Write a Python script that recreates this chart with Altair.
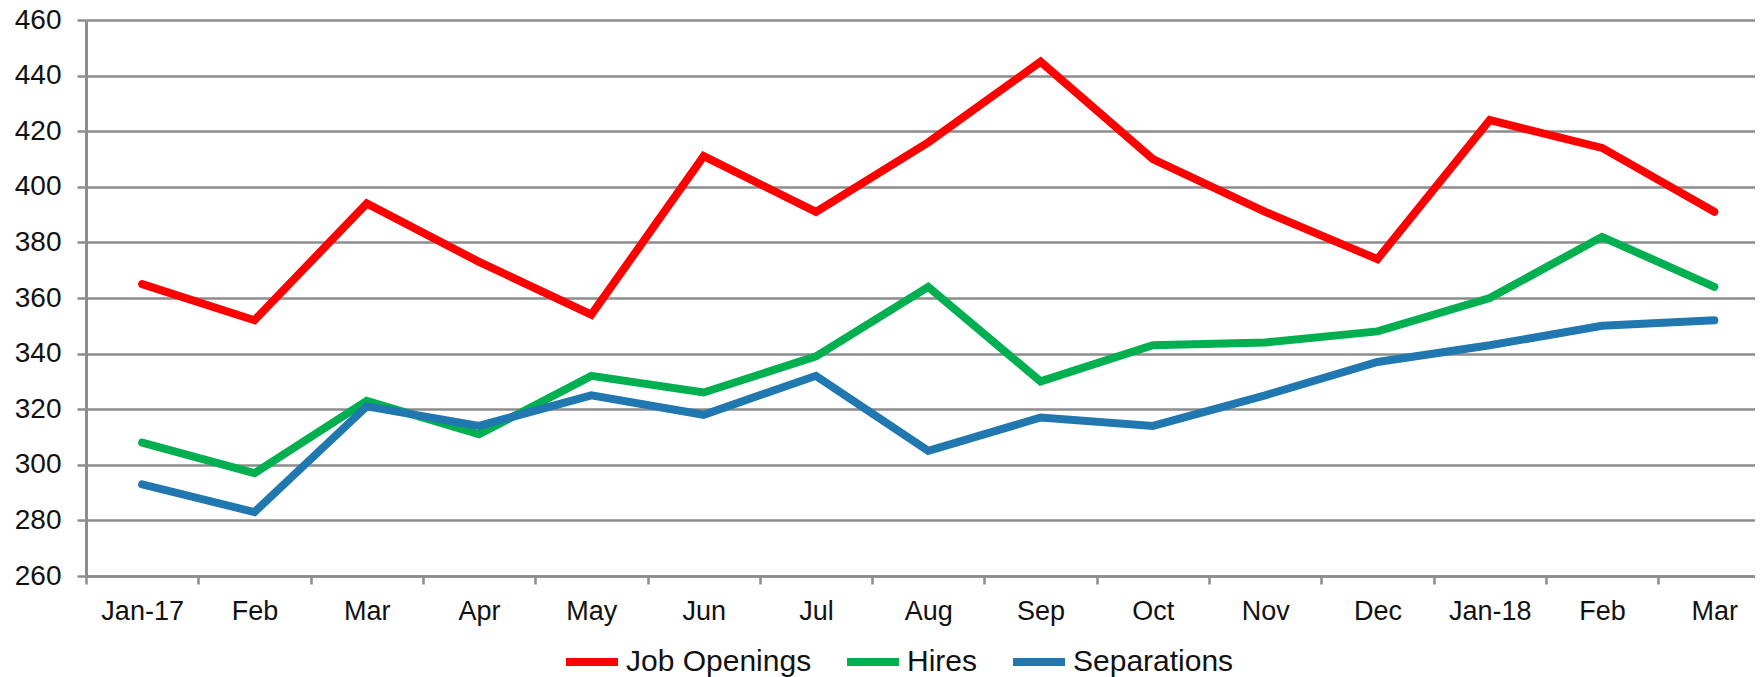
import altair as alt
import pandas as pd

months = ["Jan-17", "Feb", "Mar", "Apr", "May", "Jun", "Jul", "Aug", "Sep",
          "Oct", "Nov", "Dec", "Jan-18", "Feb", "Mar"]
job_openings = [365, 352, 394, 373, 354, 411, 391, 416, 445, 410, 391, 374, 424, 414, 391]
hires = [308, 297, 323, 311, 332, 326, 339, 364, 330, 343, 344, 348, 360, 382, 364]
separations = [293, 283, 321, 314, 325, 318, 332, 305, 317, 314, 325, 337, 343, 350, 352]
series_names = ["Job Openings", "Hires", "Separations"]
series_colors = ["#FF0000", "#00B050", "#2177B0"]
y_ticks = [260, 280, 300, 320, 340, 360, 380, 400, 420, 440, 460]

rows = []
for name, vals in zip(series_names, [job_openings, hires, separations]):
    for i, (m, v) in enumerate(zip(months, vals)):
        rows.append({"idx": i, "month": m, "series": name, "value": v})
df = pd.DataFrame(rows)

STEP = 112.3
W = 1669
H = 556
xmax = W / STEP - 0.5
GRAY = "#8C8C8C"
FONT = "Liberation Sans"

label_expr = "[" + ",".join("'" + m + "'" for m in months) + "][datum.value]"

chart = alt.Chart(df).mark_line(
    strokeWidth=8, strokeCap="round", strokeJoin="miter"
).encode(
    x=alt.X(
        "idx:Q",
        scale=alt.Scale(domain=[-0.5, xmax], nice=False, zero=False),
        axis=alt.Axis(
            values=list(range(len(months))),
            labelExpr=label_expr,
            tickOffset=-STEP / 2,
            labelOffset=STEP / 2,
            grid=False,
            title=None,
            tickSize=8,
            tickWidth=2.5,
            tickColor=GRAY,
            domainColor=GRAY,
            domainWidth=2.5,
            labelPadding=14,
            labelFontSize=27,
            labelFont=FONT,
            labelColor="#111111",
            labelOverlap=False,
            labelFlush=False,
        ),
    ),
    y=alt.Y(
        "value:Q",
        scale=alt.Scale(domain=[260, 460], nice=False, zero=False),
        axis=alt.Axis(
            values=y_ticks,
            title=None,
            grid=True,
            gridColor=GRAY,
            gridWidth=2.5,
            tickSize=9,
            tickWidth=2.5,
            tickColor=GRAY,
            domainColor=GRAY,
            domainWidth=3,
            labelPadding=16,
            labelFontSize=28,
            labelFont=FONT,
            labelColor="#111111",
        ),
    ),
    color=alt.Color(
        "series:N",
        scale=alt.Scale(domain=series_names, range=series_colors),
        sort=series_names,
        legend=alt.Legend(
            orient="none",
            legendX=476,
            legendY=612,
            direction="horizontal",
            columns=3,
            title=None,
            symbolType="stroke",
            symbolSize=2704,
            symbolStrokeWidth=8,
            labelFontSize=30,
            labelFont=FONT,
            labelColor="#111111",
            labelLimit=400,
            labelOffset=4,
            columnPadding=19,
            padding=0,
        ),
    ),
).properties(
    width=W,
    height=H,
    autosize=alt.AutoSizeParams(type="none"),
    padding={"left": 78, "top": 12, "right": 0, "bottom": 101},
).configure_view(stroke=None).configure(background="white")

chart.save("out.html", embed_options={"renderer": "svg", "actions": False})
